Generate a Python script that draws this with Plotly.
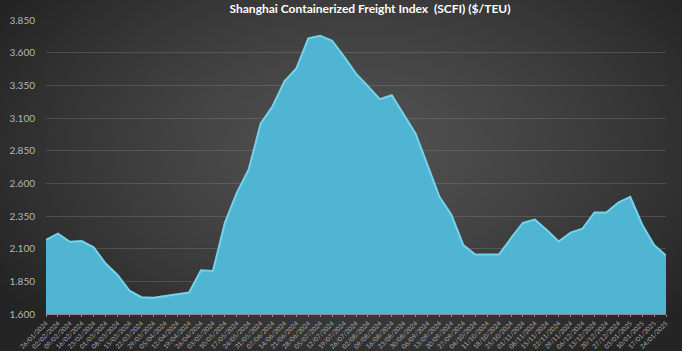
import base64, struct, zlib
import numpy as np
import pandas as pd
import plotly.graph_objects as go

# ---------------- data ----------------
dates = pd.date_range("2024-01-26", "2025-01-24", freq="7D")
scfi = [2168, 2215, 2153, 2158, 2110, 1986, 1899, 1779, 1729, 1725,
        1737, 1750, 1764, 1934, 1929, 2297, 2527, 2706, 3057, 3190,
        3380, 3480, 3710, 3730, 3690, 3570, 3440, 3344, 3244, 3274,
        3130, 2980, 2740, 2497, 2360, 2128, 2056, 2056, 2056, 2180,
        2297, 2322, 2243, 2155, 2223, 2253, 2377, 2377, 2452, 2497,
        2285, 2128, 2048]
y_ticks = [1600, 1850, 2100, 2350, 2600, 2850, 3100, 3350, 3600, 3850]
title_text = "Shanghai Containerized Freight Index  (SCFI) ($/TEU)"

# ---------------- background gradient image ----------------
W, H = 682, 351
yy, xx = np.mgrid[0:H, 0:W].astype(float)
cx, cy = 355.0, 150.0
d = np.sqrt(((xx - cx) / 420.0) ** 2 + ((yy - cy) / 260.0) ** 2)
d = np.clip(d, 0, 1)
val = 0x52 - (0x52 - 0x24) * d ** 1.3
img = np.clip(val, 0, 255).astype(np.uint8)
rgb = np.stack([img, img, img], axis=2)
raw = b"".join(b"\x00" + rgb[r].tobytes() for r in range(H))


def chunk(tag, data):
    c = struct.pack(">I", len(data)) + tag + data
    return c + struct.pack(">I", zlib.crc32(tag + data) & 0xFFFFFFFF)


png = (b"\x89PNG\r\n\x1a\n"
       + chunk(b"IHDR", struct.pack(">IIBBBBB", W, H, 8, 2, 0, 0, 0))
       + chunk(b"IDAT", zlib.compress(raw, 9))
       + chunk(b"IEND", b""))
bg_uri = "data:image/png;base64," + base64.b64encode(png).decode()

# plot-area geometry (pixels)
L, R, T, B = 46, 16, 20, 37
pw, ph = W - L - R, H - T - B

fig = go.Figure()
fig.add_trace(go.Scatter(
    x=dates, y=scfi, mode="lines", fill="tozeroy",
    fillcolor="#4fb5d3",
    line=dict(color="#74d3ea", width=2),
    hoverinfo="skip",
))

fig.update_layout(
    width=W, height=H,
    margin=dict(l=L, r=R, t=T, b=B, autoexpand=False),
    paper_bgcolor="#2b2b2b",
    plot_bgcolor="rgba(0,0,0,0)",
    separators=",.",
    showlegend=False,
    font=dict(family="Lato, Carlito, sans-serif", color="#b5b5b5", size=10),
    title=dict(text="<b>" + title_text + "</b>", x=370 / W, xref="container",
               xanchor="center", y=1 - 9 / H, yref="container", yanchor="middle",
               font=dict(size=12, color="#ffffff")),
    images=[dict(source=bg_uri, xref="paper", yref="paper",
                 x=-L / pw, y=1 + T / ph, sizex=W / pw, sizey=H / ph,
                 xanchor="left", yanchor="top", sizing="stretch",
                 layer="below")],
    xaxis=dict(
        range=[dates[0], dates[-1]],
        tickmode="array", tickvals=list(dates),
        ticktext=[d.strftime("%d/%m/%Y") for d in dates],
        tickangle=-45, tickfont=dict(size=6.5, color="#a8a8a8"),
        showgrid=False, showline=True, linecolor="#8a8a8a", linewidth=1,
        ticks="outside", ticklen=2, tickcolor="#8a8a8a",
        automargin=False, zeroline=False,
    ),
    yaxis=dict(
        range=[1600, 3850], tickmode="array", tickvals=y_ticks,
        tickformat=",", tickfont=dict(size=10, color="#b5b5b5"),
        showgrid=True, gridcolor="rgba(150,150,150,0.28)", gridwidth=1,
        showline=False, zeroline=False, ticks="", ticklabelstandoff=10,
        automargin=False,
    ),
)

fig.write_html("out.html")
